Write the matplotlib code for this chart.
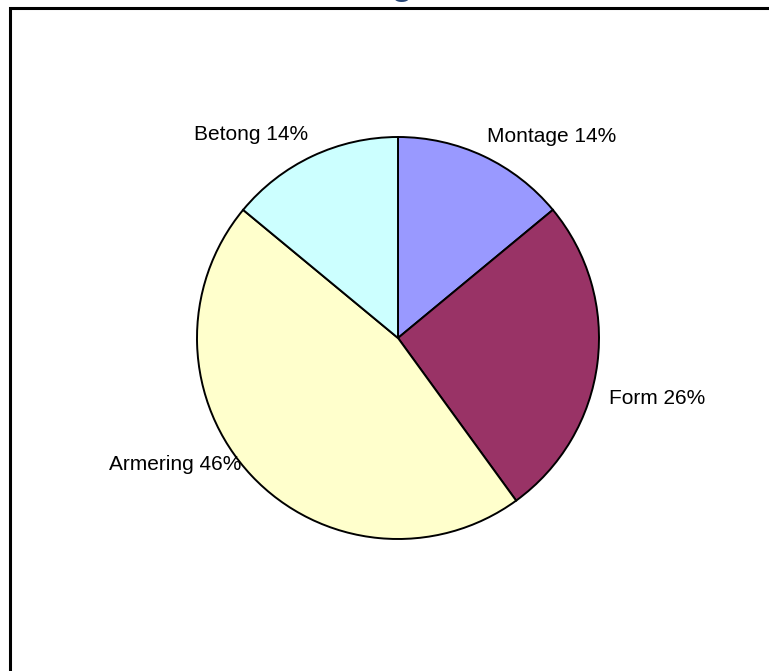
import matplotlib
matplotlib.use("Agg")
from matplotlib import pyplot as plt
from matplotlib.patches import Rectangle

plt.rcParams['font.family'] = ['Liberation Sans', 'DejaVu Sans']

# kostnadsandelar, medurs från kl. 12
poster = ["Montage", "Form", "Armering", "Betong"]
andel = [14, 26, 46, 14]
farger = ["#9999FF", "#993366", "#FFFFCC", "#CCFFFF"]

# etikettplacering (pixlar, origo nere till vänster) och justering
etikett_xy = [(487, 534), (609, 273), (241, 207), (308, 536)]
etikett_ha = ["left", "left", "right", "right"]

W, H = 769, 671
fig = plt.figure(figsize=(W / 100, H / 100), dpi=100)
ax = fig.add_axes([0, 0, 1, 1])

ax.pie(andel, colors=farger, startangle=90, counterclock=False,
       center=(398, 333), radius=201,
       wedgeprops=dict(edgecolor="black", linewidth=1.4))

for namn, v, (x, y), ha in zip(poster, andel, etikett_xy, etikett_ha):
    ax.text(x, y, f"{namn} {v}%", ha=ha, va="center", fontsize=15, color="black")

ax.set_xlim(0, W)
ax.set_ylim(0, H)
ax.set_aspect("equal")
ax.axis("off")

# diagramramen fortsätter utanför bilden
ram = Rectangle((9.5, -20), W + 40, H - 7.5 + 20, fill=False,
                edgecolor="black", linewidth=2.2, clip_on=False)
ax.add_patch(ram)

# rubriken ligger nästan helt ovanför bildkanten
fig.text(414 / W, 1 + 6.5 / H, "Kostnadsfördelning", ha="right", va="baseline",
         fontsize=26, fontweight="bold", color="#284777")

plt.savefig("out.png", dpi=100)
